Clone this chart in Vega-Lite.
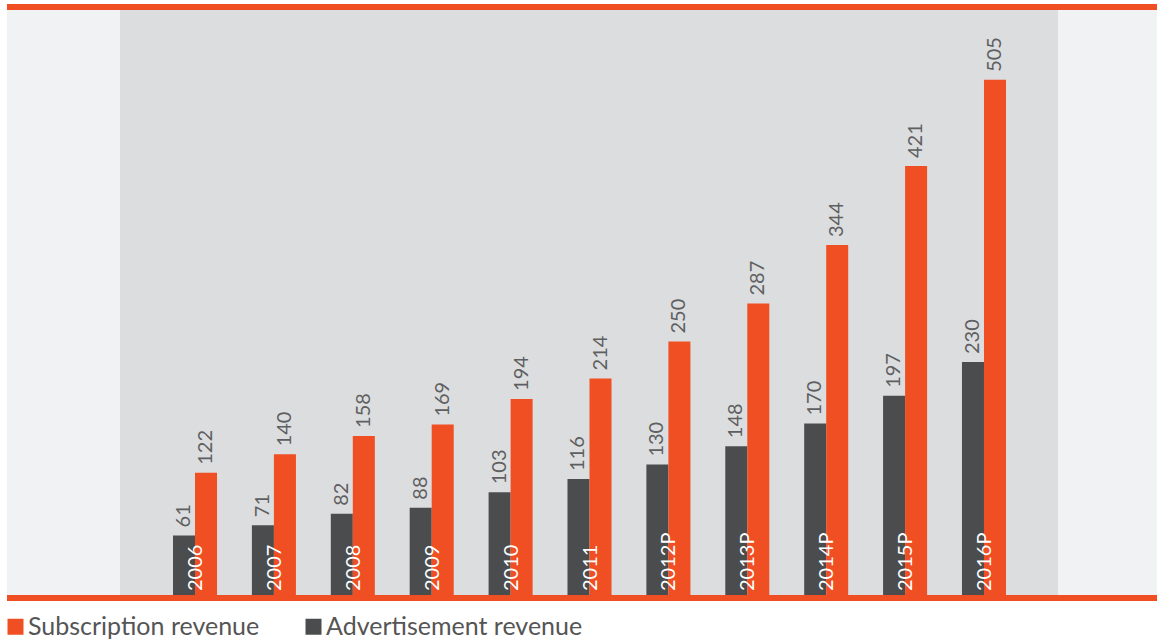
{
  "$schema": "https://vega.github.io/schema/vega-lite/v6.json",
  "width": 1150,
  "height": 591,
  "autosize": {"type": "none"},
  "padding": {"left": 7, "right": 0, "top": 7, "bottom": 43},
  "background": "#ffffff",
  "config": {
    "view": {"fill": "#f1f2f4", "stroke": null},
    "font": "Lato",
    "axis": {"disable": true}
  },
  "data": {
    "values": [
      {"year": "2006", "series": "Advertisement revenue", "value": 61},
      {"year": "2006", "series": "Subscription revenue", "value": 122},
      {"year": "2007", "series": "Advertisement revenue", "value": 71},
      {"year": "2007", "series": "Subscription revenue", "value": 140},
      {"year": "2008", "series": "Advertisement revenue", "value": 82},
      {"year": "2008", "series": "Subscription revenue", "value": 158},
      {"year": "2009", "series": "Advertisement revenue", "value": 88},
      {"year": "2009", "series": "Subscription revenue", "value": 169},
      {"year": "2010", "series": "Advertisement revenue", "value": 103},
      {"year": "2010", "series": "Subscription revenue", "value": 194},
      {"year": "2011", "series": "Advertisement revenue", "value": 116},
      {"year": "2011", "series": "Subscription revenue", "value": 214},
      {"year": "2012P", "series": "Advertisement revenue", "value": 130},
      {"year": "2012P", "series": "Subscription revenue", "value": 250},
      {"year": "2013P", "series": "Advertisement revenue", "value": 148},
      {"year": "2013P", "series": "Subscription revenue", "value": 287},
      {"year": "2014P", "series": "Advertisement revenue", "value": 170},
      {"year": "2014P", "series": "Subscription revenue", "value": 344},
      {"year": "2015P", "series": "Advertisement revenue", "value": 197},
      {"year": "2015P", "series": "Subscription revenue", "value": 421},
      {"year": "2016P", "series": "Advertisement revenue", "value": 230},
      {"year": "2016P", "series": "Subscription revenue", "value": 505}
    ]
  },
  "layer": [
    {
      "data": {"values": [{}]},
      "mark": {"type": "rect", "color": "#dcdddf", "xOffset": -53, "x2Offset": 52},
      "encoding": {
        "x": {
          "datum": "2006", "type": "nominal", "bandPosition": 0,
          "scale": {
            "domain": ["2006", "2007", "2008", "2009", "2010", "2011", "2012P", "2013P", "2014P", "2015P", "2016P"],
            "range": [166, 999],
            "paddingInner": 0.442, "paddingOuter": 0
          }
        },
        "x2": {"datum": "2016P", "bandPosition": 1}
      }
    },
    {
      "mark": {"type": "bar"},
      "encoding": {
        "x": {"field": "year", "type": "nominal", "axis": null},
        "xOffset": {
          "field": "series", "type": "nominal",
          "scale": {"domain": ["Advertisement revenue", "Subscription revenue"], "paddingInner": 0, "paddingOuter": 0}
        },
        "y": {
          "field": "value", "type": "quantitative",
          "scale": {"domain": [0, 576], "nice": false, "zero": true},
          "axis": null
        },
        "color": {
          "field": "series", "type": "nominal",
          "scale": {"domain": ["Subscription revenue", "Advertisement revenue"], "range": ["#f04e23", "#4b4c4e"]},
          "legend": {
            "title": null,
            "orient": "none",
            "direction": "horizontal",
            "legendX": -4,
            "legendY": 607,
            "padding": 0,
            "symbolType": "square",
            "symbolSize": 256,
            "symbolStrokeWidth": 0,
            "symbolOpacity": 1,
            "labelFontSize": 25,
            "labelColor": "#555555",
            "labelFont": "Lato",
            "labelOffset": 0,
            "columnPadding": 41,
            "labelLimit": 400
          }
        }
      }
    },
    {
      "mark": {"type": "text", "angle": 270, "align": "left", "baseline": "middle", "dx": 8, "fontSize": 20, "color": "#5e5f61"},
      "encoding": {
        "x": {"field": "year", "type": "nominal"},
        "xOffset": {"field": "series", "type": "nominal"},
        "y": {"field": "value", "type": "quantitative"},
        "text": {"field": "value", "type": "quantitative"}
      }
    },
    {
      "transform": [{"filter": "datum.series === 'Advertisement revenue'"}],
      "mark": {"type": "text", "angle": 270, "align": "left", "baseline": "middle", "dx": 7, "dy": 1, "fontSize": 20, "color": "#ffffff"},
      "encoding": {
        "x": {"field": "year", "type": "nominal"},
        "y": {"datum": 0},
        "text": {"field": "year", "type": "nominal"}
      }
    },
    {
      "mark": {"type": "rule", "color": "#f04e23", "strokeWidth": 5},
      "encoding": {"y": {"datum": 0}}
    },
    {
      "mark": {"type": "rule", "color": "#f04e23", "strokeWidth": 5},
      "encoding": {"y": {"datum": 576}}
    }
  ]
}
